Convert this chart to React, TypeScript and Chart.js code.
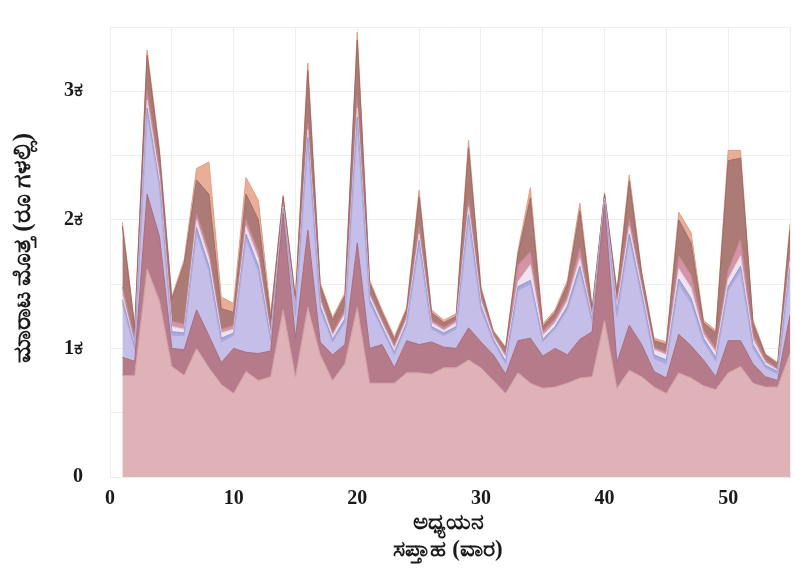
import React, { useEffect, useRef } from "react";
import { Chart, registerables } from "chart.js";

Chart.register(...registerables);

const weeks = Array.from({ length: 55 }, (_, i) => i + 1);

const base = [790,790,1620,1370,860,790,1000,850,720,650,820,750,780,1300,780,1320,950,750,880,1320,730,730,730,810,810,800,850,850,910,850,750,650,810,730,690,700,730,770,780,1220,690,830,780,700,650,810,770,710,680,810,860,730,700,700,960];
const mauve = [140,110,580,500,140,200,300,250,170,350,150,210,200,750,300,600,100,200,150,500,270,300,120,250,220,250,160,150,250,200,200,150,250,350,250,300,220,300,350,900,200,350,250,120,120,300,250,200,100,250,200,150,80,50,300];
const lavender = [420,90,630,380,100,110,600,500,160,100,880,640,70,30,170,680,250,100,170,930,350,120,100,120,770,100,90,150,840,250,100,80,390,420,110,150,350,530,70,20,360,670,370,100,110,390,330,140,120,390,540,120,70,50,340];
const periwinkle = [30,20,40,30,30,20,40,40,30,20,40,40,20,10,20,40,30,20,30,50,30,20,20,20,40,20,20,20,40,30,20,20,30,30,20,20,30,40,20,10,30,40,30,30,30,40,40,30,30,30,40,30,20,20,30];
const blush = [40,20,60,50,40,30,60,60,40,30,60,60,30,10,30,60,40,30,40,70,30,30,30,30,50,30,20,30,60,40,20,30,40,120,30,30,40,60,20,10,40,60,40,40,40,80,80,30,40,60,80,40,20,10,50];
const rose = [60,30,80,60,40,40,50,50,30,30,50,50,20,20,20,50,30,20,30,80,20,20,20,20,60,20,20,20,50,30,20,20,130,100,30,30,40,80,20,10,40,60,40,20,20,100,100,30,30,70,130,40,20,10,60];
const brown = [470,100,270,130,170,470,260,450,160,100,200,250,110,60,60,410,90,100,110,450,80,60,50,50,230,60,40,30,410,60,20,50,80,420,40,50,90,290,40,30,70,290,70,50,60,280,250,60,120,850,630,90,40,40,180];
const peach = [30,20,40,30,20,30,90,250,90,70,130,150,40,10,20,60,20,20,20,60,20,20,20,20,50,20,20,20,60,20,10,10,30,80,20,20,30,60,20,10,20,50,20,20,20,60,80,20,20,80,60,20,10,10,50];

const yTickValues = [0, 500, 1000, 1500, 2000, 2500, 3000, 3500];
const xTickValues = [0, 5, 10, 15, 20, 25, 30, 35, 40, 45, 50, 55];

const yTitle = "ಮಾರಾಟ ಮೊತ್ತ (ರೂ ಗಳಲ್ಲಿ)";
const xTitle = ["ಅಧ್ಯಯನ", "ಸಪ್ತಾಹ (ವಾರ)"];

const layers = [
  { name: "base", values: base, fill: "#deb2b6", line: "#d09ca4" },
  { name: "mauve", values: mauve, fill: "#b67b8b", line: "#a66c7c" },
  { name: "lavender", values: lavender, fill: "#c4bee8", line: "#b0a8dc" },
  { name: "periwinkle", values: periwinkle, fill: "#a3aadc", line: "#9098d0" },
  { name: "blush", values: blush, fill: "#f0e2ee", line: "#e4cedc" },
  { name: "rose", values: rose, fill: "#d494a6", line: "#c48296" },
  { name: "brown", values: brown, fill: "#ad7b76", line: "#9c6a66" },
  { name: "peach", values: peach, fill: "#e9ae98", line: "#e39c84" },
];

const FONT = "'Liberation Serif', 'DejaVu Serif', serif";

const titlePlugin = {
  id: "axisTitles",
  afterDraw(chart: any) {
    const ctx = chart.ctx;
    ctx.save();
    ctx.fillStyle = "#1a1a1a";
    ctx.font = `bold 25px ${FONT}`;
    ctx.textAlign = "center";
    ctx.textBaseline = "middle";
    ctx.translate(24, 248);
    ctx.rotate(-Math.PI / 2);
    ctx.fillText(yTitle, 0, 0);
    ctx.restore();

    ctx.save();
    ctx.fillStyle = "#1a1a1a";
    ctx.font = `bold 23px ${FONT}`;
    ctx.textAlign = "center";
    ctx.textBaseline = "middle";
    ctx.fillText(xTitle[0], 448, 523);
    ctx.fillText(xTitle[1], 448, 550);
    ctx.restore();
  },
};

export default function App() {
  const ref = useRef<HTMLCanvasElement | null>(null);

  useEffect(() => {
    if (!ref.current) return;
    const chart = new Chart(ref.current, {
      type: "line",
      data: {
        datasets: layers.map((l, i) => ({
          label: l.name,
          data: weeks.map((w, j) => ({ x: w, y: l.values[j] })),
          backgroundColor: l.fill,
          borderColor: l.line,
          borderWidth: 1,
          pointRadius: 0,
          tension: 0,
          fill: i === 0 ? "origin" : "-1",
        })),
      },
      options: {
        animation: false,
        responsive: true,
        maintainAspectRatio: false,
        layout: { padding: { top: 27, right: 5, left: 0, bottom: 0 } },
        plugins: { legend: { display: false }, tooltip: { enabled: false } },
        scales: {
          x: {
            type: "linear",
            min: 0,
            max: 55,
            afterBuildTicks: (s: any) => {
              s.ticks = xTickValues.map((v) => ({ value: v }));
            },
            afterFit: (s: any) => {
              s.height = 92;
              s.paddingLeft = 0;
              s.paddingRight = 0;
            },
            grid: { color: "#eeeeee", drawTicks: false },
            border: { color: "#eeeeee" },
            ticks: {
              padding: 10,
              autoSkip: false,
              maxRotation: 0,
              color: "#1a1a1a",
              font: { family: FONT, size: 20, weight: "bold" },
              callback: (v: any) => (Number(v) % 10 === 0 ? String(v) : ""),
            },
          },
          y: {
            stacked: true,
            min: 0,
            max: 3500,
            afterBuildTicks: (s: any) => {
              s.ticks = yTickValues.map((v) => ({ value: v }));
            },
            afterFit: (s: any) => {
              s.width = 110;
              s.paddingTop = 0;
              s.paddingBottom = 0;
            },
            grid: { color: "#eeeeee", drawTicks: false },
            border: { color: "#eeeeee" },
            ticks: {
              padding: 27,
              color: "#1a1a1a",
              font: { family: FONT, size: 20, weight: "bold" },
              callback: (v: any) => {
                const n = Number(v);
                if (n === 0) return "0";
                return n % 1000 === 0 ? `${n / 1000}ಕ` : "";
              },
            },
          },
        },
      },
      plugins: [titlePlugin],
    });
    return () => chart.destroy();
  }, []);

  return (
    <div style={{ position: "fixed", left: 0, top: 0, width: 795, height: 569, background: "#fff" }}>
      <canvas ref={ref} />
    </div>
  );
}
